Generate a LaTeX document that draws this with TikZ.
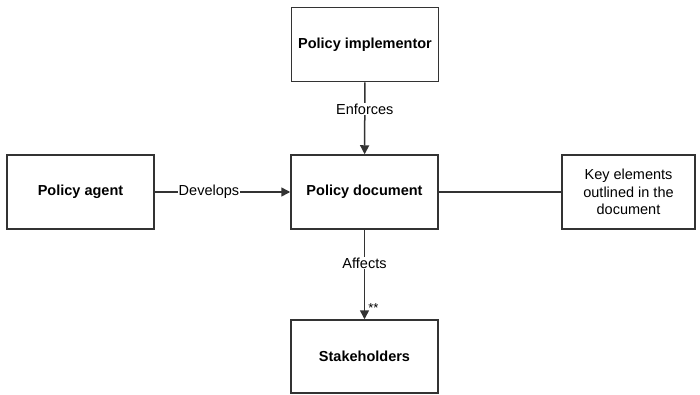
\documentclass[tikz,border=0pt]{standalone}
\usepackage{fontspec}
\setmainfont{Liberation Sans}
\usetikzlibrary{arrows.meta}
\begin{document}
\begin{tikzpicture}[x=1pt,y=-1pt,
  box/.style={draw=black!80,line width=1.5pt,minimum width=147pt,minimum height=74pt,inner sep=0pt,align=center,font=\fontsize{14.5}{17.5}\selectfont\bfseries},
  plainbox/.style={box,font=\fontsize{14.5}{17.5}\selectfont},
  conn/.style={draw=black!80,line width=1.5pt},
  arr/.style={conn,-{Triangle[length=9pt,width=9pt]}},
  lbl/.style={fill=white,inner sep=1pt,font=\fontsize{14.5}{17.5}\selectfont}]
\useasboundingbox (0,0) rectangle (700,394);
\node[box] (impl) at (365,44.5) {Policy implementor};
\node[box] (agent) at (80.5,192) {Policy agent};
\node[box] (doc) at (364.5,192) {Policy document};
\node[plainbox,minimum width=133pt] (key) at (628.5,192) {Key elements\\outlined in the\\document};
\node[box,minimum height=73pt] (stake) at (364.5,356.5) {Stakeholders};
\draw[arr] (impl) -- node[lbl,pos=0.37] {Enforces} (doc);
\draw[arr] (agent) -- node[lbl,pos=0.4] {Develops} (doc);
\draw[conn] (doc) -- (key);
\draw[arr] (doc) -- node[lbl,pos=0.37] {Affects} node[pos=0.87,right,inner sep=3pt,font=\fontsize{13}{14}\selectfont] {**} (stake);
\end{tikzpicture}
\end{document}
